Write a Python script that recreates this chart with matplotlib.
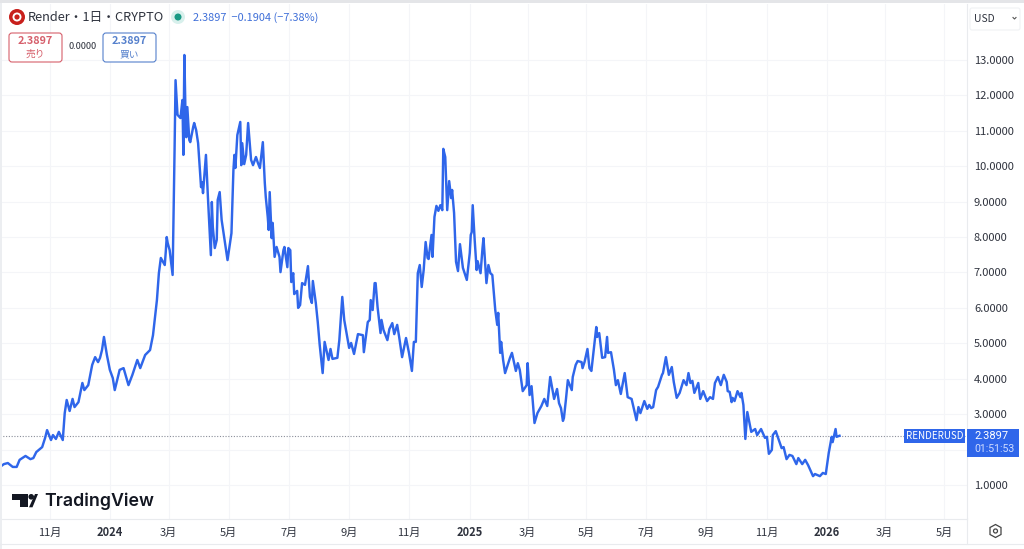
#!/usr/bin/env python3
"""Render / USD daily line chart in the TradingView look."""

import matplotlib
matplotlib.use('Agg')
import matplotlib.pyplot as plt
from matplotlib.patches import Circle, FancyBboxPatch, Polygon, Rectangle

plt.rcParams['font.family'] = ['Noto Sans CJK JP', 'DejaVu Sans']

# days since 2023-11-01
days = [
    -51, -47, -43, -38, -34, -31, -25, -20, -17, -14, -8, -5, -3, 1, 3, 6, 9, 13, 15, 17,
    20, 23, 25, 29, 33, 35, 39, 43, 46, 49, 51, 53, 55, 58, 61, 64, 66, 69, 71, 75,
    80, 84, 89, 92, 97, 102, 105, 109, 111, 113, 117, 118, 119, 120, 122, 125, 127, 128, 130, 133,
    135, 136, 137, 138, 139, 140, 142, 143, 146, 147, 149, 151, 154, 155, 156, 159, 161, 164, 165, 166,
    168, 170, 171, 173, 175, 177, 181, 185, 187, 188, 189, 191, 194, 195, 196, 198, 200, 202, 205, 207,
    210, 212, 214, 217, 219, 220, 222, 223, 224, 226, 227, 229, 231, 234, 235, 238, 239, 242, 243, 245,
    246, 248, 249, 252, 253, 255, 257, 260, 263, 265, 267, 268, 271, 273, 275, 278, 279, 280, 284, 286,
    288, 293, 295, 298, 300, 303, 305, 307, 310, 314, 319, 320, 324, 326, 327, 329, 331, 332, 334, 337,
    338, 340, 344, 346, 349, 351, 354, 356, 359, 363, 366, 369, 371, 373, 375, 377, 379, 381, 383, 385,
    386, 389, 390, 392, 394, 396, 398, 400, 401, 403, 405, 407, 409, 410, 412, 414, 416, 418, 421, 425,
    428, 429, 430, 431, 433, 435, 436, 439, 441, 442, 445, 447, 449, 451, 454, 456, 457, 459, 460, 462,
    464, 469, 471, 475, 477, 479, 482, 486, 487, 489, 491, 494, 497, 501, 504, 507, 510, 514, 517, 519,
    521, 523, 524, 526, 528, 532, 533, 536, 538, 542, 543, 545, 548, 550, 552, 557, 558, 560, 563, 566,
    568, 569, 572, 575, 577, 579, 582, 586, 589, 593, 598, 600, 602, 606, 609, 611, 613, 615, 618, 620,
    624, 625, 628, 631, 634, 636, 639, 642, 646, 649, 651, 653, 655, 657, 661, 663, 666, 670, 673, 676,
    678, 681, 684, 687, 690, 691, 693, 695, 696, 698, 701, 704, 705, 707, 709, 711, 715, 719, 721, 725,
    729, 731, 733, 736, 737, 740, 742, 746, 748, 751, 754, 757, 761, 763, 767, 770, 773, 778, 780, 785,
    788, 791, 794, 797, 798, 801, 802, 805,
]
prices = [
    1.51, 1.59, 1.62, 1.51, 1.51, 1.71, 1.82, 1.73, 1.76, 1.93, 2.07, 2.33, 2.55, 2.27, 2.41, 2.30, 2.50, 2.27, 3.03, 3.40,
    3.09, 3.43, 3.20, 3.34, 3.88, 3.68, 3.82, 4.39, 4.61, 4.47, 4.59, 4.81, 5.18, 4.67, 4.25, 4.02, 3.68, 4.02, 4.25, 4.30,
    3.82, 4.11, 4.53, 4.30, 4.67, 4.81, 5.23, 6.22, 6.98, 7.41, 7.21, 7.58, 8.00, 7.83, 7.63, 6.93, 10.46, 12.43, 11.45, 11.36,
    11.87, 10.32, 13.14, 11.67, 10.82, 11.67, 10.74, 10.68, 11.11, 11.22, 11.02, 10.65, 9.41, 9.55, 9.24, 10.32, 9.13, 7.49, 8.99, 8.28,
    7.69, 7.92, 9.05, 9.27, 8.48, 8.11, 7.35, 8.11, 9.89, 10.32, 9.95, 10.88, 11.25, 10.03, 10.65, 10.06, 10.32, 11.22, 10.18, 10.03,
    10.26, 10.09, 9.95, 10.68, 9.53, 9.13, 8.57, 8.20, 9.27, 7.97, 8.40, 7.44, 7.72, 7.44, 7.01, 7.63, 7.72, 7.15, 7.69, 7.63,
    6.73, 6.98, 6.39, 6.48, 6.00, 6.08, 6.70, 6.65, 7.18, 6.31, 6.14, 6.76, 6.14, 5.60, 4.95, 4.16, 4.61, 5.04, 4.53, 4.84,
    4.56, 4.59, 5.09, 6.31, 5.66, 5.18, 4.87, 5.01, 4.70, 5.26, 5.23, 4.75, 5.60, 5.66, 6.22, 5.94, 6.70, 6.70, 6.02, 5.29,
    5.66, 5.38, 5.09, 5.40, 5.57, 5.26, 5.52, 5.18, 4.61, 5.15, 4.73, 4.22, 5.04, 5.04, 6.98, 7.21, 6.59, 7.07, 7.86, 7.41,
    7.38, 8.06, 7.44, 8.57, 8.88, 8.74, 8.90, 8.76, 10.49, 10.26, 8.76, 9.58, 9.10, 9.33, 8.68, 7.30, 7.04, 7.80, 7.13, 6.79,
    7.55, 8.06, 8.14, 8.90, 7.92, 7.07, 7.32, 6.98, 7.69, 7.97, 6.70, 7.21, 6.98, 6.93, 5.94, 5.52, 5.86, 4.73, 5.04, 4.53,
    4.16, 4.59, 4.73, 4.22, 4.44, 4.25, 3.65, 3.82, 4.44, 3.54, 3.79, 2.75, 3.03, 3.23, 3.43, 3.23, 4.05, 3.43, 3.71, 3.31,
    3.17, 2.81, 2.89, 3.40, 3.96, 3.68, 4.05, 4.39, 4.50, 4.47, 4.30, 4.47, 4.84, 4.30, 4.22, 5.46, 5.18, 5.29, 4.59, 4.61,
    5.18, 4.73, 4.75, 4.25, 3.82, 3.96, 3.57, 4.16, 3.48, 3.43, 2.83, 3.20, 3.03, 3.37, 3.15, 3.26, 3.17, 3.20, 3.68, 3.77,
    4.11, 4.16, 4.61, 4.11, 4.33, 3.91, 3.46, 3.60, 3.96, 3.82, 4.16, 3.88, 3.94, 3.60, 3.88, 3.43, 3.65, 3.37, 3.48, 3.43,
    3.88, 4.05, 3.82, 4.11, 3.91, 3.65, 3.63, 3.34, 3.46, 3.37, 3.65, 3.48, 3.60, 3.26, 2.30, 3.06, 2.50, 2.58, 2.41, 2.58,
    2.33, 2.36, 1.88, 1.99, 2.41, 2.52, 2.36, 2.04, 2.07, 1.73, 1.85, 1.82, 1.59, 1.76, 1.59, 1.71, 1.56, 1.25, 1.31, 1.25,
    1.34, 1.31, 1.90, 2.36, 2.21, 2.58, 2.36, 2.39,
]
last_price = 2.3897

x_tick_days = [0, 61, 121, 182, 244, 305, 366, 428, 487, 547, 608, 669, 731, 792, 851, 912]
x_tick_labels = ['11月', '2024', '3月', '5月', '7月', '9月', '11月', '2025',
                 '3月', '5月', '7月', '9月', '11月', '2026', '3月', '5月']
y_ticks = list(range(1, 14))
y_hidden = [2]  # sits under the last price label in the app

BLUE = '#2f66ea'
BORDER = '#e9ebee'
GRID = '#f4f5f8'
TEXT = '#2f333e'
W, H = 1024, 549

fig = plt.figure(figsize=(W / 100, H / 100), dpi=100, facecolor='white')

# ---- main pane
ax = fig.add_axes([0, (H - 519) / H, 967 / W, 515 / H])
ax.plot(days, prices, color=BLUE, linewidth=1.75, solid_joinstyle='round', zorder=3)
ax.axhline(last_price, color='#8a8e99', linewidth=0.8, linestyle=(0, (1, 1.5)), zorder=2)
ax.set_xlim(-51, 935)
ax.set_ylim(0.04, 14.58)
ax.grid(True, color=GRID, linewidth=0.8)
ax.set_axisbelow(True)
ax.yaxis.tick_right()
ax.set_yticks(y_ticks)
ax.set_yticklabels(['' if v in y_hidden else f'{v:.4f}' for v in y_ticks], fontsize=8, color=TEXT)
ax.set_xticks(x_tick_days)
ax.set_xticklabels(x_tick_labels, fontsize=8, color=TEXT, va='center')
for lbl in ax.get_xticklabels():
    if lbl.get_text().isdigit():
        lbl.set_fontweight('bold')
ax.tick_params(length=0)
ax.tick_params(axis='x', pad=10)
ax.tick_params(axis='y', pad=5)
for side in ('top', 'left'):
    ax.spines[side].set_visible(False)
for side in ('right', 'bottom'):
    ax.spines[side].set_color(BORDER)

# ---- overlay in screen pixels for the app furniture
ov = fig.add_axes([0, 0, 1, 1], facecolor='none')
ov.set_xlim(0, W)
ov.set_ylim(H, 0)
ov.axis('off')

ov.add_patch(Rectangle((0, 0), W, 3, color='#e4e5e8', lw=0))
ov.add_patch(Rectangle((0, 3), 1.5, H - 3, color='#eceef1', lw=0))
ov.plot([0, W], [543.5, 543.5], color=BORDER, lw=0.8)
ov.plot([967, 967], [519, 543.5], color=BORDER, lw=0.8)

# header
ov.add_patch(Circle((17, 17), 8, color='#c8201c', lw=0))
ov.add_patch(Circle((17, 17), 4.5, color='white', lw=0))
ov.add_patch(Circle((17, 17), 2.6, color='#c8201c', lw=0))
ov.text(28, 17.5, 'Render・1日・CRYPTO', fontsize=9.2, color=TEXT, va='center')
ov.add_patch(Circle((178, 17), 7, color='#d8f0ec', lw=0))
ov.add_patch(Circle((178, 17), 3.5, color='#1a9a85', lw=0))
ov.text(193, 18, '2.3897  −0.1904 (−7.38%)', fontsize=7.9, color='#3f6fd8', va='center')


def order_box(x, y, w, h, color, price, side):
    ov.add_patch(FancyBboxPatch((x + 3, y + 3), w - 6, h - 6, boxstyle='round,pad=3',
                                fc='white', ec=color, lw=0.8))
    ov.text(x + w / 2, y + 8.5, price, fontsize=7.8, color=color, fontweight='bold',
            ha='center', va='center')
    ov.text(x + w / 2, y + 21, side, fontsize=7, color=color, ha='center', va='center')


order_box(9, 33, 53, 29, '#d65f6b', '2.3897', '売り')
ov.text(82.5, 46.5, '0.0000', fontsize=6.6, color=TEXT, ha='center', va='center')
order_box(103, 33, 53, 29, '#5580cc', '2.3897', '買い')

# USD selector
ov.add_patch(FancyBboxPatch((972, 10), 46, 18, boxstyle='round,pad=2', fc='white', ec='#f0f1f4', lw=0.8))
ov.text(974, 18.5, 'USD', fontsize=7.4, color=TEXT, va='center')
ov.plot([1013, 1014.5, 1016], [17.5, 19, 17.5], color='#555', lw=0.8)

# last price labels
ov.add_patch(Rectangle((904, 429), 61, 14, color=BLUE, lw=0))
ov.text(934.5, 436, 'RENDERUSD', fontsize=7, color='white', ha='center', va='center')
ov.add_patch(Rectangle((967, 429), 52, 28, color=BLUE, lw=0))
ov.text(974, 436, '2.3897', fontsize=8, color='white', va='center', family='Roboto')
ov.text(974, 449.5, '01:51:53', fontsize=7.6, color='#cfdcff', va='center', family='Roboto')

# TradingView mark
ov.add_patch(Polygon([(12, 494), (28.3, 494), (28.3, 507.3), (20, 507.3), (20, 499.5), (12, 499.5)],
                     closed=True, fc='#131722', lw=0))
ov.add_patch(Circle((31.2, 496.8), 2.8, fc='#131722', lw=0))
ov.add_patch(Polygon([(38, 494), (35, 494), (29, 507.3), (32.5, 507.3)], closed=True, fc='#131722', lw=0))
ov.text(44.5, 501, 'TradingView', fontsize=12.8, color='#131722', va='center',
        family='Inter', fontweight='semibold')

# settings icon
hex_x = [990, 995.5, 1001, 1001, 995.5, 990]
hex_y = [527.5, 524.5, 527.5, 534.5, 537.5, 534.5]
ov.add_patch(Polygon(list(zip(hex_x, hex_y)), closed=True, fc='white', ec='#444', lw=0.9))
ov.add_patch(Circle((995.5, 531), 2, fc='white', ec='#444', lw=0.9))

fig.savefig('out.png', dpi=100)
